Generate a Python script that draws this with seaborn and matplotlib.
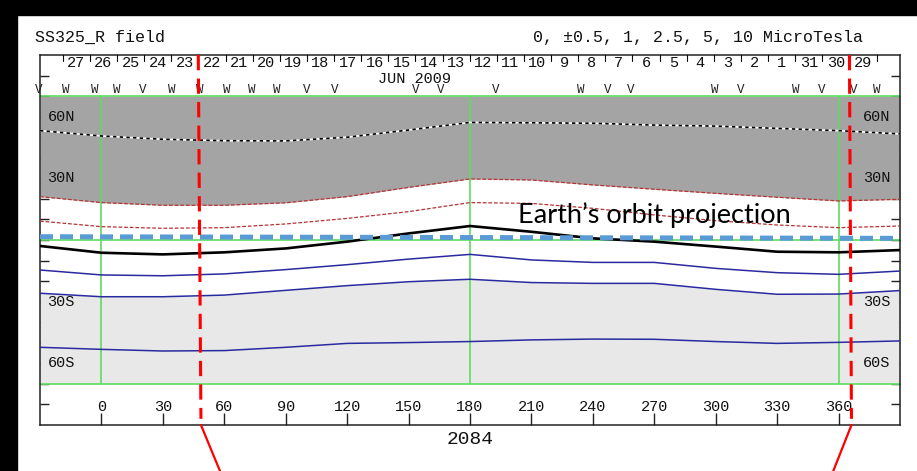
import matplotlib
matplotlib.use("Agg")
import matplotlib.pyplot as plt
import seaborn as sns
from matplotlib.patches import Rectangle

sns.set_theme(style="white")
plt.rcParams["font.family"] = ["Liberation Mono", "DejaVu Sans Mono"]

# Carrington longitude samples (degrees)
lon = [-30, 0, 30, 60, 90, 120, 150, 180, 210, 240, 270, 300, 330, 360, 390]

# source-surface field contours: latitude of each level along lon
pos_10 = [53.2, 50.6, 49.0, 48.3, 48.2, 50.0, 53.5, 57.2, 57.0, 56.8, 55.9, 55.4, 54.3, 53.2, 51.6]
pos_hi = [21.1, 18.2, 16.9, 16.9, 18.1, 21.1, 25.6, 29.7, 29.2, 26.8, 24.7, 22.7, 20.8, 19.0, 19.8]
pos_lo = [9.2, 6.5, 5.7, 6.0, 7.8, 10.5, 13.8, 18.2, 17.8, 15.4, 12.2, 9.4, 7.3, 6.0, 6.8]
neutral = [-2.9, -6.2, -7.0, -6.0, -4.1, -0.8, 3.2, 6.8, 4.0, 0.8, -0.8, -3.2, -5.7, -6.0, -4.9]
neg_lo = [-14.6, -17.0, -17.4, -16.5, -14.4, -12.0, -9.3, -7.0, -9.7, -10.9, -10.9, -13.8, -15.9, -16.7, -15.1]
neg_hi = [-25.9, -27.6, -27.6, -26.8, -24.5, -22.2, -20.3, -19.1, -20.7, -21.1, -21.1, -24.0, -26.4, -26.3, -24.6]
neg_10 = [-52.2, -53.2, -54.0, -53.8, -52.2, -50.3, -49.9, -49.4, -48.6, -48.2, -48.3, -49.4, -50.3, -49.8, -49.1]

# Earth's heliographic latitude across the map
orbit_lon = [-30, 390]
orbit_lat = [1.6, 0.8]

# observation day labels (June 2009, time runs right-to-left)
days = [27, 26, 25, 24, 23, 22, 21, 20, 19, 18, 17, 16, 15, 14, 13,
        12, 11, 10, 9, 8, 7, 6, 5, 4, 3, 2, 1, 31, 30, 29]
day_edge0 = -18.9
deg_per_day = 13.25

# sector polarity marks along the top
sector_lon = [-30.4, -17.6, -3.4, 7.3, 20.1, 34.3, 48.0, 61.2, 73.5, 85.7, 100.4, 114.1,
              153.3, 165.5, 192.5, 234.1, 247.3, 258.6, 299.7, 312.4, 338.9, 351.6, 367.3, 378.6]
sector_sym = ["V", "W", "W", "W", "V", "W", "W", "W", "W", "W", "V", "V",
              "V", "V", "V", "W", "V", "V", "W", "V", "W", "V", "V", "W"]

# interval boundaries
cut_lon_top = [47.3, 365.3]
cut_lon_bot = [48.6, 366.3]
cut_tail_lon = [57.9, 357.4]

xticks = list(range(0, 361, 30))
lat_marks = [60, 30, -30, -60]
lat_names = ["60N", "30N", "30S", "60S"]

fig = plt.figure(figsize=(9.17, 4.71), dpi=100)
fig.patch.set_facecolor("white")
fig.patches.append(Rectangle((0, 456 / 471), 1, 15 / 471, transform=fig.transFigure,
                             color="black", zorder=0))
fig.patches.append(Rectangle((0, 0), 17 / 917, 1, transform=fig.transFigure,
                             color="black", zorder=0))

ax = fig.add_axes([40 / 917, 46 / 471, 860 / 917, 370 / 471])
ax.set_xlim(-30, 390)
ax.set_ylim(-90, 90)

# polarity shading
ax.fill_between(lon, pos_hi, 70, color="#a4a4a4", lw=0, zorder=1)
ax.fill_between(lon, -70, neg_hi, color="#e8e8e8", lw=0, zorder=1)

# grid frame in green
green = "#5fdc5f"
for lat in (70, 0, -70):
    ax.axhline(lat, color=green, lw=1.2, zorder=2)
ax.vlines([0, 180, 360], -70, 70, color=green, lw=1.2, zorder=2)

# contours
sns.lineplot(x=lon, y=pos_10, ax=ax, color="white", lw=1.2, sort=False, estimator=None, zorder=3)
sns.lineplot(x=lon, y=pos_10, ax=ax, color="black", lw=1.2, linestyle=(0, (2, 2)),
             sort=False, estimator=None, zorder=3)
for ys in (pos_hi, pos_lo):
    sns.lineplot(x=lon, y=ys, ax=ax, color="#b83232", lw=0.9, linestyle=(0, (3, 1.5)),
                 sort=False, estimator=None, zorder=3)
sns.lineplot(x=lon, y=neutral, ax=ax, color="black", lw=1.9, sort=False, estimator=None, zorder=4)
for ys in (neg_lo, neg_hi, neg_10):
    sns.lineplot(x=lon, y=ys, ax=ax, color="#2a2aa0", lw=1.1, sort=False, estimator=None, zorder=3)

# Earth's orbit
sns.lineplot(x=orbit_lon, y=orbit_lat, ax=ax, color="#5b9bd5", lw=3.6,
             linestyle=(0, (2.6, 1.4)), sort=False, estimator=None, zorder=5)
ax.text(203.2, 8.3, "Earth\u2019s orbit projection", family=["Lato", "DejaVu Sans"],
        fontsize=19.5, ha="left", va="baseline", color="black", zorder=6)

# interval boundaries
for xt, xb, xe in zip(cut_lon_top, cut_lon_bot, cut_tail_lon):
    ax.plot([xt, xb], [90, -87], color="#ff0000", lw=2.2, linestyle=(0, (5, 2.7)),
            zorder=7, clip_on=False)
    ax.plot([xb, xe], [-90, -112.4], color="#ff0000", lw=1.6, zorder=7, clip_on=False)

# day scale along the top
for i in range(len(days) + 1):
    x = day_edge0 + i * deg_per_day
    ax.plot([x, x], [90, 87.2], color="black", lw=0.8, zorder=3)
for i, d in enumerate(days):
    x = day_edge0 + (i + 0.5) * deg_per_day
    ax.text(x, 86.3, str(d), ha="center", va="center", fontsize=11, color="#111")
ax.text(153, 78.3, "JUN 2009", ha="center", va="center", fontsize=11, color="#111")
for x, s in zip(sector_lon, sector_sym):
    ax.text(x, 72.8, s, ha="center", va="center", fontsize=9, color="#222", clip_on=False)

# axes ticks and labels
ax.set_xticks(xticks)
ax.set_xticklabels([])
ax.set_yticks(list(range(-80, 81, 10)))
ax.set_yticklabels([])
ax.tick_params(axis="x", direction="in", length=8.6, width=1.0, color="#222", bottom=True, top=False)
ax.tick_params(axis="y", direction="in", length=6.5, width=1.0, color="#222", left=True, right=True)
for v in xticks:
    ax.text(v, -81.2, str(v), ha="center", va="center", fontsize=11, color="#111")
for lat, name in zip(lat_marks, lat_names):
    ax.text(-26.3, lat, name, ha="left", va="center", fontsize=11, color="#111", zorder=6)
    ax.text(385.3, lat, name, ha="right", va="center", fontsize=11, color="#111", zorder=6)
for sp in ax.spines.values():
    sp.set_color("#222")
    sp.set_linewidth(1.1)
ax.grid(False)

fig.text(35 / 917, 1 - 37.5 / 471, "SS325_R field", ha="left", va="center", fontsize=12, color="#111")
fig.text(863 / 917, 1 - 37.5 / 471, "0, \u00b10.5, 1, 2.5, 5, 10 MicroTesla",
         ha="right", va="center", fontsize=12, color="#111")
fig.text(470 / 917, 1 - 439 / 471, "2084", ha="center", va="center", fontsize=14, color="#111")

fig.savefig("out.png", dpi=100)
